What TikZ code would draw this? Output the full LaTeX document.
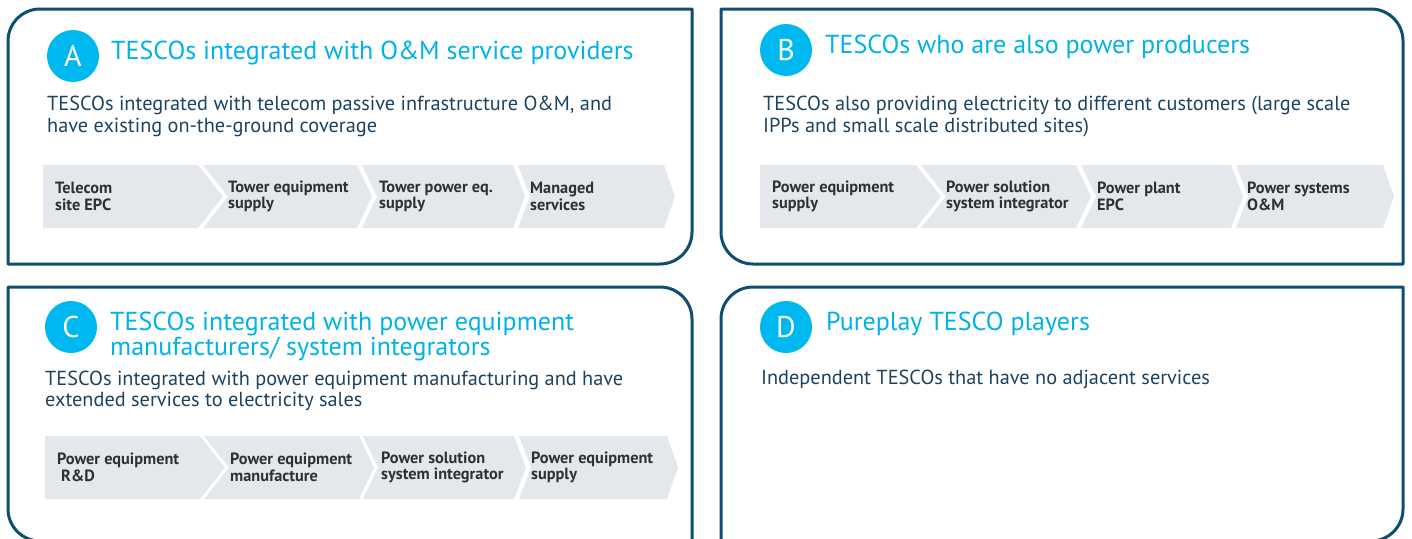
\documentclass[tikz,border=0pt]{standalone}
\usepackage{fontspec}
\setmainfont{PT Sans}
\definecolor{frameblue}{RGB}{14,78,112}
\definecolor{titlecyan}{RGB}{0,178,232}
\definecolor{badgecyan}{RGB}{0,184,240}
\definecolor{chevfill}{RGB}{228,232,236}
\definecolor{bodyblue}{RGB}{28,66,96}
\definecolor{chevink}{RGB}{45,48,52}
\tikzset{
  panel/.style={draw=frameblue, line width=3pt, line join=round},
  badge/.style={circle, fill=badgecyan, text=white, minimum size=52pt, inner sep=0pt,
    font=\fontsize{30}{30}\selectfont},
  title/.style={text=titlecyan, inner sep=0pt, align=left, anchor=base west,
    font=\fontsize{26}{25}\selectfont},
  body/.style={text=bodyblue, inner sep=0pt, align=left, anchor=base west,
    font=\fontsize{20.3}{22}\selectfont},
  chevron/.style={fill=chevfill},
  chevlabel/.style={text=chevink, inner sep=0pt, align=left, anchor=west,
    font=\bfseries\fontsize{16.3}{16.5}\selectfont}
}
\begin{document}
\begin{tikzpicture}[x=1pt, y=-1pt]
  \useasboundingbox (0,0) rectangle (1412,538);
  \clip (0,0) rectangle (1412,538);

  % panel frames
  \draw[panel] (8,264) -- (8,41) arc[start angle=180, end angle=270, radius=32]
    -- (692,9) -- (692,232) arc[start angle=0, end angle=90, radius=32] -- cycle;
  \draw[panel] (721,9) -- (1371,9) arc[start angle=270, end angle=360, radius=32]
    -- (1403,264) -- (753,264) arc[start angle=90, end angle=180, radius=32] -- cycle;
  \draw[panel] (8,287) -- (660,287) arc[start angle=270, end angle=360, radius=32]
    -- (692,541) -- (40,541) arc[start angle=90, end angle=180, radius=32] -- cycle;
  \draw[panel] (721,541) -- (721,319) arc[start angle=180, end angle=270, radius=32]
    -- (1403,287) -- (1403,509) arc[start angle=0, end angle=90, radius=32] -- cycle;

  % chevron rows
  \foreach \l/\r/\n/\d in {43/198/0/25, 203/357/25/15, 362/513/15/12, 518/664/12/11}
    \fill[chevron] (\l,165) -- (\r,165) -- ({\r+\d},196.5) -- (\r,228) -- (\l,228) -- ({\l+\n},196.5) -- cycle;
  \foreach \l/\r/\n/\d in {760/916/0/25, 921/1076/25/15, 1081/1231/15/12, 1236/1383/12/11}
    \fill[chevron] (\l,165) -- (\r,165) -- ({\r+\d},196.5) -- (\r,228) -- (\l,228) -- ({\l+\n},196.5) -- cycle;
  \foreach \l/\r/\n/\d in {45/200/0/25, 204/359/25/15, 363/514/15/12, 519/667/12/11}
    \fill[chevron] (\l,436) -- (\r,436) -- ({\r+\d},467.5) -- (\r,499) -- (\l,499) -- ({\l+\n},467.5) -- cycle;

  % A
  \node[badge] (badgeA) at (73,56) {A};
  \node[title] (titleA) at (111,59) {TESCOs integrated with O\&M service providers};
  \node[body] (bodyA) at (47,132) {TESCOs integrated with telecom passive infrastructure O\&M, and\\have existing on-the-ground coverage};
  \node[chevlabel] (a1) at (55,196.5) {Telecom\\site EPC};
  \node[chevlabel] (a2) at (228,196.5) {Tower equipment\\supply};
  \node[chevlabel] (a3) at (379,196.5) {Tower power eq.\\supply};
  \node[chevlabel] (a4) at (530,196.5) {Managed\\services};

  % B
  \node[badge] (badgeB) at (786,50) {B};
  \node[title] (titleB) at (825,53) {TESCOs who are also power producers};
  \node[body] (bodyB) at (763,132) {TESCOs also providing electricity to different customers (large scale\\IPPs and small scale distributed sites)};
  \node[chevlabel] (b1) at (772,196.5) {Power equipment\\supply};
  \node[chevlabel] (b2) at (946,196.5) {Power solution\\system integrator};
  \node[chevlabel] (b3) at (1097,196.5) {Power plant\\EPC};
  \node[chevlabel] (b4) at (1247,196.5) {Power systems\\O\&M};

  % C
  \node[badge] (badgeC) at (71,327) {C};
  \node[title] (titleC) at (110,355) {TESCOs integrated with power equipment\\manufacturers/ system integrators};
  \node[body, font=\fontsize{20.3}{20.5}\selectfont] (bodyC) at (45,406) {TESCOs integrated with power equipment manufacturing and have\\extended services to electricity sales};
  \node[chevlabel] (c1) at (57,467.5) {Power equipment\\\hspace{4pt}R\&D};
  \node[chevlabel] (c2) at (230,467.5) {Power equipment\\manufacture};
  \node[chevlabel] (c3) at (381,467.5) {Power solution\\system integrator};
  \node[chevlabel] (c4) at (531,467.5) {Power equipment\\supply};

  % D
  \node[badge] (badgeD) at (786,327) {D};
  \node[title] (titleD) at (826,330) {Pureplay TESCO players};
  \node[body] (bodyD) at (761,384) {Independent TESCOs that have no adjacent services};
\end{tikzpicture}
\end{document}
